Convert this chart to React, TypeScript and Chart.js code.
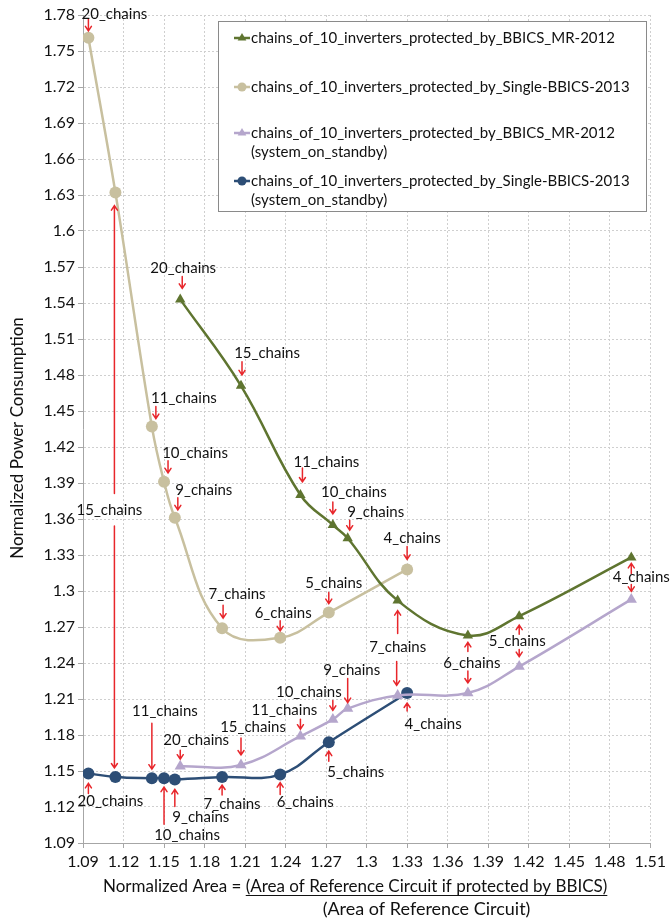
import React, { useEffect, useRef } from "react";
import { Chart, registerables } from "chart.js";

Chart.register(...registerables);

// ---------------- data ----------------
const CHAINS = [20, 15, 11, 10, 9, 7, 6, 5, 4];

const SINGLE_AREA = [1.094, 1.114, 1.141, 1.15, 1.158, 1.193, 1.236, 1.272, 1.33];
const SINGLE_POWER = [1.761, 1.632, 1.437, 1.391, 1.361, 1.269, 1.261, 1.282, 1.318];
const SINGLE_STANDBY_POWER = [1.148, 1.145, 1.144, 1.144, 1.143, 1.145, 1.147, 1.174, 1.215];

const MR_AREA = [1.162, 1.207, 1.251, 1.275, 1.286, 1.323, 1.375, 1.413, 1.496];
const MR_POWER = [1.543, 1.471, 1.38, 1.355, 1.344, 1.292, 1.263, 1.279, 1.328];
const MR_STANDBY_POWER = [1.154, 1.155, 1.179, 1.193, 1.202, 1.213, 1.215, 1.237, 1.293];

const X_TICKS = [1.09, 1.12, 1.15, 1.18, 1.21, 1.24, 1.27, 1.3, 1.33, 1.36, 1.39, 1.42, 1.45, 1.48, 1.51];
const Y_TICKS = [
  1.09, 1.12, 1.15, 1.18, 1.21, 1.24, 1.27, 1.3, 1.33, 1.36, 1.39, 1.42, 1.45, 1.48, 1.51, 1.54,
  1.57, 1.6, 1.63, 1.66, 1.69, 1.72, 1.75, 1.78,
];

const SERIES_NAMES = [
  "chains_of_10_inverters_protected_by_BBICS_MR-2012",
  "chains_of_10_inverters_protected_by_Single-BBICS-2013",
  "chains_of_10_inverters_protected_by_BBICS_MR-2012",
  "chains_of_10_inverters_protected_by_Single-BBICS-2013",
];
const SERIES_NOTES = ["", "", "(system_on_standby)", "(system_on_standby)"];

const Y_TITLE = "Normalized Power Consumption";
const X_TITLE_LEFT = "Normalized Area = ";
const X_TITLE_NUM = "(Area of Reference Circuit if protected by BBICS)";
const X_TITLE_DEN = "(Area of Reference Circuit)";

// ---------------- styles / layout ----------------
const FONT = "Lato, 'Open Sans', sans-serif";
const TEXT = "#111111";
const RED = "#e8262b";
const COLORS = {
  mr: "#5f7530",
  single: "#c8c09f",
  mrSb: "#b5a6cc",
  singleSb: "#2d4e76",
};

// label layout: text centre offset (px) relative to a series point
const LABELS = [
  { s: "single", i: 0, dx: 26, dy: -24 },
  { s: "single", i: 2, dx: 32, dy: -28 },
  { s: "single", i: 3, dx: 31, dy: -29 },
  { s: "single", i: 4, dx: 29, dy: -28 },
  { s: "single", i: 5, dx: 15, dy: -34 },
  { s: "single", i: 6, dx: 3, dy: -25 },
  { s: "single", i: 7, dx: 5, dy: -29 },
  { s: "single", i: 8, dx: 5, dy: -31 },
  { s: "mr", i: 0, dx: 3, dy: -31 },
  { s: "mr", i: 1, dx: 26, dy: -33 },
  { s: "mr", i: 2, dx: 26, dy: -33 },
  { s: "mr", i: 3, dx: 21, dy: -33 },
  { s: "mr", i: 4, dx: 28, dy: -26 },
  { s: "mr", i: 5, dx: 0, dy: 47 },
  { s: "mr", i: 6, dx: 4, dy: 28 },
  { s: "mr", i: 7, dx: -2, dy: 25 },
  { s: "mr", i: 8, dx: 10, dy: 20 },
  { s: "mrSb", i: 0, dx: 16, dy: -26 },
  { s: "mrSb", i: 1, dx: 12, dy: -38 },
  { s: "mrSb", i: 2, dx: -16, dy: -26 },
  { s: "mrSb", i: 3, dx: -24, dy: -27 },
  { s: "mrSb", i: 4, dx: 4, dy: -38 },
  { s: "singleSb", i: 0, dx: 22, dy: 28 },
  { s: "singleSb", i: 1, dx: -6, dy: -267 },
  { s: "singleSb", i: 2, dx: 13, dy: -67 },
  { s: "singleSb", i: 3, dx: 23, dy: 57 },
  { s: "singleSb", i: 4, dx: 26, dy: 38 },
  { s: "singleSb", i: 5, dx: 10, dy: 27 },
  { s: "singleSb", i: 6, dx: 25, dy: 28 },
  { s: "singleSb", i: 7, dx: 27, dy: 30 },
  { s: "singleSb", i: 8, dx: 26, dy: 31 },
];

// arrow layout: vertical arrow at point x+dx, from y+from to y+to (head at "to")
const ARROWS = [
  { s: "single", i: 0, dx: 0, from: -19, to: -7 },
  { s: "single", i: 1, dx: -1, from: 301, to: 13 },
  { s: "single", i: 2, dx: 4, from: -20, to: -8 },
  { s: "single", i: 3, dx: 4, from: -21, to: -9 },
  { s: "single", i: 4, dx: 3, from: -20, to: -8 },
  { s: "single", i: 5, dx: 1, from: -23, to: -10 },
  { s: "single", i: 6, dx: 0, from: -17, to: -7 },
  { s: "single", i: 7, dx: 0, from: -20, to: -9 },
  { s: "single", i: 8, dx: 0, from: -23, to: -10 },
  { s: "mr", i: 0, dx: 2, from: -23, to: -11 },
  { s: "mr", i: 1, dx: 1, from: -24, to: -11 },
  { s: "mr", i: 2, dx: 2, from: -27, to: -13 },
  { s: "mr", i: 3, dx: 0, from: -23, to: -11 },
  { s: "mr", i: 4, dx: 2, from: -18, to: -8 },
  { s: "mr", i: 5, dx: 0, from: 33, to: 10 },
  { s: "mr", i: 6, dx: 0, from: 16, to: 7 },
  { s: "mr", i: 7, dx: 0, from: 18, to: 9 },
  { s: "mr", i: 8, dx: 0, from: 16, to: 6 },
  { s: "mrSb", i: 0, dx: 0, from: -16, to: -7 },
  { s: "mrSb", i: 1, dx: 0, from: -27, to: -10 },
  { s: "mrSb", i: 2, dx: 0, from: -17, to: -7 },
  { s: "mrSb", i: 3, dx: 0, from: -19, to: -9 },
  { s: "mrSb", i: 4, dx: 0, from: -30, to: -6 },
  { s: "mrSb", i: 5, dx: -1, from: -34, to: -10 },
  { s: "mrSb", i: 6, dx: 0, from: -22, to: -10 },
  { s: "mrSb", i: 7, dx: 0, from: -17, to: -10 },
  { s: "mrSb", i: 8, dx: 0, from: -15, to: -8 },
  { s: "singleSb", i: 0, dx: 0, from: 20, to: 10 },
  { s: "singleSb", i: 1, dx: -1, from: -251, to: -9 },
  { s: "singleSb", i: 2, dx: 0, from: -55, to: -9 },
  { s: "singleSb", i: 3, dx: 0, from: 46, to: 9 },
  { s: "singleSb", i: 4, dx: 0, from: 27, to: 10 },
  { s: "singleSb", i: 5, dx: 0, from: 18, to: 8 },
  { s: "singleSb", i: 6, dx: 0, from: 20, to: 8 },
  { s: "singleSb", i: 7, dx: 0, from: 19, to: 9 },
  { s: "singleSb", i: 8, dx: 0, from: 18, to: 10 },
];

const SERIES: Record<string, { x: number[]; y: number[] }> = {
  mr: { x: MR_AREA, y: MR_POWER },
  single: { x: SINGLE_AREA, y: SINGLE_POWER },
  mrSb: { x: MR_AREA, y: MR_STANDBY_POWER },
  singleSb: { x: SINGLE_AREA, y: SINGLE_STANDBY_POWER },
};
const ORDER = ["mr", "single", "mrSb", "singleSb"];
const STYLE: Record<string, { point: string; r: number }> = {
  mr: { point: "triangle", r: 6 },
  single: { point: "circle", r: 6 },
  mrSb: { point: "triangle", r: 6.5 },
  singleSb: { point: "circle", r: 6 },
};

function drawArrow(ctx: CanvasRenderingContext2D, x: number, y1: number, y2: number) {
  const dir = Math.sign(y2 - y1);
  ctx.save();
  ctx.strokeStyle = RED;
  ctx.lineWidth = 1.5;
  ctx.lineCap = "round";
  ctx.beginPath();
  ctx.moveTo(x, y1);
  ctx.lineTo(x, y2);
  ctx.moveTo(x - 3, y2 - dir * 4.5);
  ctx.lineTo(x, y2);
  ctx.lineTo(x + 3, y2 - dir * 4.5);
  ctx.stroke();
  ctx.restore();
}

const annotationPlugin = {
  id: "annotations",
  afterDatasetsDraw(chart: any) {
    const ctx: CanvasRenderingContext2D = chart.ctx;
    const xs = chart.scales.x;
    const ys = chart.scales.y;
    const pt = (s: string, i: number) => [
      xs.getPixelForValue(SERIES[s].x[i]),
      ys.getPixelForValue(SERIES[s].y[i]),
    ];
    ARROWS.forEach((a) => {
      const [px, py] = pt(a.s, a.i);
      drawArrow(ctx, px + a.dx, py + a.from, py + a.to);
    });
    ctx.save();
    ctx.font = `15px ${FONT}`;
    ctx.fillStyle = TEXT;
    ctx.textAlign = "center";
    ctx.textBaseline = "middle";
    LABELS.forEach((l) => {
      const [px, py] = pt(l.s, l.i);
      ctx.fillText(`${CHAINS[l.i]}_chains`, px + l.dx, py + l.dy);
    });
    ctx.restore();
  },
  afterDraw(chart: any) {
    const ctx: CanvasRenderingContext2D = chart.ctx;
    // legend box
    ctx.save();
    const bx = 218.5, by = 21.5, bw = 428, bh = 190;
    ctx.fillStyle = "#ffffff";
    ctx.fillRect(bx, by, bw, bh);
    ctx.strokeStyle = "#8a8a8a";
    ctx.lineWidth = 1;
    ctx.strokeRect(bx, by, bw, bh);
    const rows = [38, 87, 133, 181];
    ctx.font = `15px ${FONT}`;
    ctx.textAlign = "left";
    ctx.textBaseline = "middle";
    ORDER.forEach((k, idx) => {
      const y = rows[idx];
      const c = (COLORS as any)[k];
      ctx.strokeStyle = c;
      ctx.lineWidth = 2.5;
      ctx.beginPath();
      ctx.moveTo(234, y);
      ctx.lineTo(250, y);
      ctx.stroke();
      ctx.fillStyle = c;
      ctx.beginPath();
      if (STYLE[k].point === "triangle") {
        const r = 5;
        ctx.moveTo(242, y - r);
        ctx.lineTo(242 + r * 0.87, y + r * 0.5);
        ctx.lineTo(242 - r * 0.87, y + r * 0.5);
        ctx.closePath();
      } else {
        ctx.arc(242, y, 4.5, 0, Math.PI * 2);
      }
      ctx.fill();
      ctx.fillStyle = TEXT;
      ctx.fillText(SERIES_NAMES[idx], 251, y);
      if (SERIES_NOTES[idx]) ctx.fillText(SERIES_NOTES[idx], 251, y + 19);
    });

    // y axis title
    ctx.save();
    ctx.translate(18, 438);
    ctx.rotate(-Math.PI / 2);
    ctx.font = `17px ${FONT}`;
    ctx.textAlign = "center";
    ctx.textBaseline = "middle";
    ctx.fillStyle = TEXT;
    ctx.fillText(Y_TITLE, 0, 0);
    ctx.restore();

    // x axis title
    ctx.font = `17px ${FONT}`;
    ctx.textBaseline = "alphabetic";
    ctx.fillStyle = TEXT;
    ctx.textAlign = "left";
    const x0 = 103;
    const baseY = 892;
    const wL = ctx.measureText(X_TITLE_LEFT).width;
    const wN = ctx.measureText(X_TITLE_NUM).width;
    ctx.fillText(X_TITLE_LEFT, x0, baseY);
    ctx.fillText(X_TITLE_NUM, x0 + wL, baseY);
    ctx.strokeStyle = TEXT;
    ctx.lineWidth = 1;
    ctx.beginPath();
    ctx.moveTo(x0 + wL, baseY + 3.5);
    ctx.lineTo(x0 + wL + wN, baseY + 3.5);
    ctx.stroke();
    ctx.textAlign = "center";
    ctx.font = `18px ${FONT}`;
    ctx.fillText(X_TITLE_DEN, x0 + wL + wN / 2, baseY + 23);
    ctx.restore();
  },
};

const fmt = (v: number) => String(Math.round(v * 100) / 100);

export default function App() {
  const ref = useRef<HTMLCanvasElement | null>(null);

  useEffect(() => {
    if (!ref.current) return;
    const datasets = ORDER.map((k, idx) => ({
      label: SERIES_NAMES[idx] + (SERIES_NOTES[idx] ? " " + SERIES_NOTES[idx] : ""),
      data: SERIES[k].x.map((x, i) => ({ x, y: SERIES[k].y[i] })),
      borderColor: (COLORS as any)[k],
      backgroundColor: (COLORS as any)[k],
      pointBackgroundColor: (COLORS as any)[k],
      pointBorderColor: (COLORS as any)[k],
      pointBorderWidth: 0,
      pointStyle: STYLE[k].point,
      pointRadius: STYLE[k].r,
      borderWidth: 2.5,
      tension: 0.4,
      showLine: true,
      fill: false,
    }));

    const grid = {
      color: "#cfcfcf",
      lineWidth: 1,
      tickLength: 5,
      tickColor: "#a6a6a6",
      tickBorderDash: [],
    };

    const chart = new Chart(ref.current, {
      type: "line",
      data: { datasets },
      plugins: [annotationPlugin],
      options: {
        animation: false,
        responsive: false,
        maintainAspectRatio: false,
        devicePixelRatio: 1,
        layout: { padding: { left: 0, right: 17, top: 15, bottom: 0 } },
        plugins: { legend: { display: false }, tooltip: { enabled: false } },
        scales: {
          x: {
            type: "linear",
            min: 1.09,
            max: 1.51,
            afterBuildTicks: (s: any) => {
              s.ticks = X_TICKS.map((v) => ({ value: v }));
            },
            afterFit: (s: any) => {
              s.height = 77;
            },
            ticks: {
              autoSkip: false,
              maxRotation: 0,
              padding: 4,
              color: TEXT,
              font: { family: FONT, size: 16 },
              callback: (v: any) => fmt(Number(v)),
            },
            grid,
            border: { display: true, color: "#a6a6a6", width: 1, dash: [2, 2] },
          },
          y: {
            type: "linear",
            min: 1.09,
            max: 1.78,
            afterBuildTicks: (s: any) => {
              s.ticks = Y_TICKS.map((v) => ({ value: v }));
            },
            afterFit: (s: any) => {
              s.width = 83;
            },
            ticks: {
              autoSkip: false,
              padding: 3,
              color: TEXT,
              font: { family: FONT, size: 16 },
              callback: (v: any) => fmt(Number(v)),
            },
            grid,
            border: { display: true, color: "#a6a6a6", width: 1, dash: [2, 2] },
          },
        },
      } as any,
    });
    return () => chart.destroy();
  }, []);

  return (
    <div style={{ position: "absolute", left: 0, top: 0, width: 670, height: 920, background: "#fff" }}>
      <canvas ref={ref} width={670} height={920} style={{ width: 670, height: 920, display: "block" }} />
    </div>
  );
}
